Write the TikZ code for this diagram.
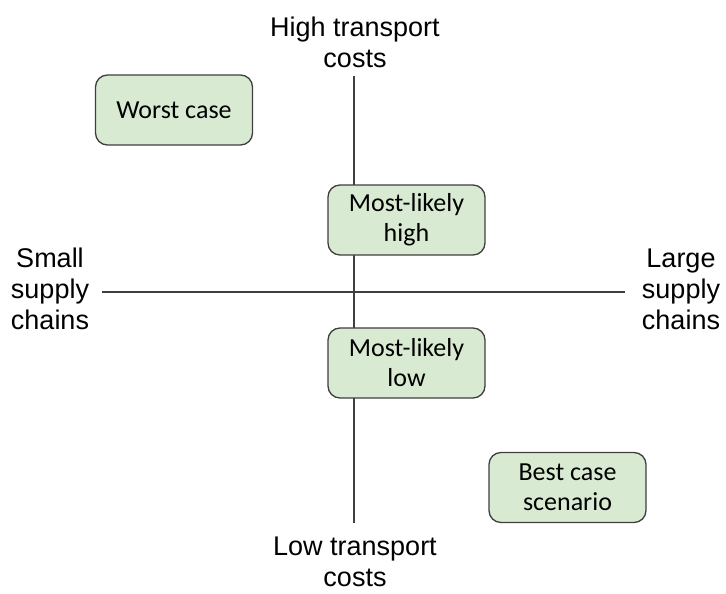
\documentclass[tikz,border=0pt]{standalone}
\usepackage{fontspec}
\setmainfont{Liberation Sans}
\newfontfamily\boxfont{Carlito}
\definecolor{boxfill}{HTML}{D9EAD3}
\definecolor{edge}{HTML}{3F3F3F}
\begin{document}
\begin{tikzpicture}[x=1pt,y=-1pt,
  axis/.style={draw=edge,line width=2pt},
  axislabel/.style={align=center,inner sep=0pt,font=\fontsize{27}{31}\selectfont},
  scenario/.style={draw=edge,line width=1.3pt,fill=boxfill,rounded corners=12pt,
    minimum width=157pt,minimum height=70pt,inner sep=0pt,align=center,
    font=\boxfont\fontsize{26}{30}\selectfont}]
\useasboundingbox (0,0) rectangle (726,594);

% axes
\coordinate (ytop) at (354,76);
\coordinate (ybot) at (354,523);
\coordinate (xleft) at (102,292);
\coordinate (xright) at (625,292);
\draw[axis] (ytop) -- (ybot);
\draw[axis] (xleft) -- (xright);

% axis labels
\node[axislabel] (high) at (355,42) {High transport\\costs};
\node[axislabel] (low) at (355,562) {Low transport\\costs};
\node[axislabel] (small) at (50,289) {Small\\supply\\chains};
\node[axislabel] (large) at (681,289) {Large\\supply\\chains};

% scenarios
\node[scenario] (worst) at (174,110) {Worst case};
\node[scenario] (mlhigh) at (406.5,220) {Most-likely\\high};
\node[scenario] (mllow) at (406.5,363) {Most-likely\\low};
\node[scenario] (best) at (567.5,487.5) {Best case\\scenario};
\end{tikzpicture}
\end{document}
